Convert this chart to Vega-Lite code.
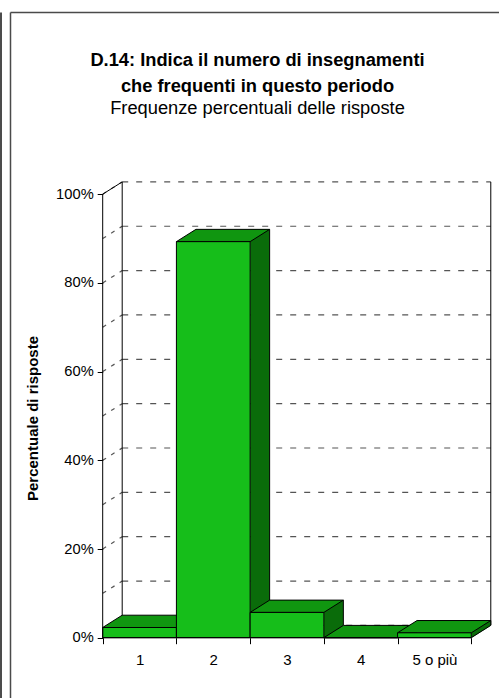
{
  "$schema": "https://vega.github.io/schema/vega-lite/v6.json",
  "width": 489,
  "height": 686,
  "autosize": {"type": "none"},
  "padding": {"left": 10, "top": 12, "right": 0, "bottom": 0},
  "background": "white",
  "config": {"view": {"stroke": null}, "font": "Liberation Sans"},
  "title": {
    "text": ["D.14: Indica il numero di insegnamenti", "che frequenti in questo periodo"],
    "subtitle": "Frequenze percentuali delle risposte",
    "anchor": "middle",
    "frame": "group",
    "orient": "top",
    "offset": -106,
    "dx": 3,
    "font": "Liberation Sans",
    "fontSize": 18.3,
    "fontWeight": "bold",
    "color": "black",
    "lineHeight": 26,
    "subtitleFont": "Liberation Sans",
    "subtitleFontSize": 18.3,
    "subtitleColor": "black",
    "subtitlePadding": 3
  },
  "datasets": {
    "risposte": [
      {"risposta": "1", "perc": 2.3},
      {"risposta": "2", "perc": 89.3},
      {"risposta": "3", "perc": 5.7},
      {"risposta": "4", "perc": 0},
      {"risposta": "5 o più", "perc": 1.1}
    ],
    "griglia": [
      {"v": 0}, {"v": 10}, {"v": 20}, {"v": 30}, {"v": 40}, {"v": 50},
      {"v": 60}, {"v": 70}, {"v": 80}, {"v": 90}, {"v": 100}
    ]
  },
  "resolve": {"axis": {"x": "independent", "y": "independent"}},
  "layer": [
    {
      "data": {"name": "griglia"},
      "mark": {"type": "rule", "stroke": "#555555", "strokeWidth": 1.2, "strokeDash": [6, 8], "xOffset": 19.5, "x2Offset": 19.5, "yOffset": -12.3},
      "encoding": {
        "x": {
          "datum": "1", "type": "nominal", "bandPosition": 0,
          "scale": {"type": "band", "domain": ["1", "2", "3", "4", "5 o più"], "paddingInner": 0, "paddingOuter": 0.8166, "align": 0.7699},
          "axis": {"orient": "top", "domain": true, "domainColor": "#4a4a4a", "domainWidth": 1.5, "ticks": false, "labels": false, "grid": false, "title": null}
        },
        "x2": {"datum": "5 o più", "bandPosition": 1},
        "y": {
          "field": "v", "type": "quantitative",
          "scale": {"domain": [-13.596, 141.082], "nice": false, "zero": false},
          "axis": {"orient": "left", "domain": true, "domainColor": "#4a4a4a", "domainWidth": 1.5, "ticks": false, "labels": false, "grid": false, "title": null}
        }
      }
    },
    {
      "data": {"name": "griglia"},
      "mark": {"type": "rule", "stroke": "#555555", "strokeWidth": 1.2, "strokeDash": [4, 6], "x2Offset": 19.5, "y2Offset": -12.3},
      "encoding": {
        "x": {"datum": "1", "type": "nominal", "bandPosition": 0, "axis": null},
        "x2": {"datum": "1", "bandPosition": 0},
        "y": {
          "field": "v", "type": "quantitative",
          "axis": {"orient": "left", "offset": 9.5, "domain": true, "domainColor": "#111111", "domainWidth": 1.5, "ticks": false, "labels": false, "grid": false, "title": null}
        },
        "y2": {"field": "v"}
      }
    },
    {
      "data": {"values": [{}]},
      "mark": {"type": "rule", "stroke": "black", "strokeWidth": 1, "xOffset": 19.5, "yOffset": -12.3, "y2Offset": -12.3},
      "encoding": {
        "x": {"datum": "1", "type": "nominal", "bandPosition": 0, "axis": null},
        "y": {"datum": 0, "type": "quantitative", "axis": null},
        "y2": {"datum": 100}
      }
    },
    {
      "data": {"values": [{}]},
      "mark": {"type": "rule", "stroke": "black", "strokeWidth": 1, "xOffset": 19.5, "yOffset": -12.3, "y2Offset": -12.3},
      "encoding": {
        "x": {"datum": "5 o più", "type": "nominal", "bandPosition": 1, "axis": null},
        "y": {"datum": 0, "type": "quantitative", "axis": null},
        "y2": {"datum": 100}
      }
    },
    {
      "data": {"values": [{}]},
      "mark": {"type": "rule", "stroke": "black", "strokeWidth": 1, "x2Offset": 19.5, "y2Offset": -12.3},
      "encoding": {
        "x": {"datum": "1", "type": "nominal", "bandPosition": 0, "axis": null},
        "x2": {"datum": "1", "bandPosition": 0},
        "y": {"datum": 100, "type": "quantitative", "axis": null},
        "y2": {"datum": 100}
      }
    },
    {
      "data": {"values": [{}]},
      "mark": {"type": "rule", "stroke": "black", "strokeWidth": 1, "x2Offset": 19.5, "y2Offset": -12.3},
      "encoding": {
        "x": {"datum": "1", "type": "nominal", "bandPosition": 0, "axis": null},
        "x2": {"datum": "1", "bandPosition": 0},
        "y": {"datum": 0, "type": "quantitative", "axis": null},
        "y2": {"datum": 0}
      }
    },
    {
      "data": {"name": "risposte"},
      "mark": {"type": "bar", "width": 19.5, "xOffset": 46.61, "yOffset": -12.3, "fill": "#0A6C0A", "strokeWidth": 0},
      "encoding": {
        "x": {"field": "risposta", "type": "nominal", "axis": null},
        "y": {"field": "perc", "type": "quantitative", "axis": null, "stack": null},
        "y2": {"datum": 0}
      }
    },
    {
      "data": {"name": "risposte"},
      "mark": {"type": "rule", "stroke": "black", "strokeWidth": 1, "xOffset": 56.36, "yOffset": -12.3, "y2Offset": -12.3},
      "encoding": {
        "x": {"field": "risposta", "type": "nominal", "axis": null},
        "y": {"field": "perc", "type": "quantitative", "axis": null},
        "y2": {"datum": 0}
      }
    },
    {
      "data": {"name": "risposte"},
      "mark": {"type": "point", "shape": "M-0.9322,0.123L0.5422,0.123L0.9322,-0.123L-0.5422,-0.123Z", "size": 10000, "filled": true, "fill": "#109610", "stroke": "black", "strokeWidth": 1, "opacity": 1, "xOffset": 9.75, "yOffset": -6.15},
      "encoding": {
        "x": {"field": "risposta", "type": "nominal", "axis": null},
        "y": {"field": "perc", "type": "quantitative", "axis": null}
      }
    },
    {
      "data": {"values": [{}]},
      "mark": {"type": "point", "shape": "M0.7372,0.006L1.1472,-0.252L1.1472,0.006Z", "size": 10000, "filled": true, "fill": "white", "strokeWidth": 0, "opacity": 1},
      "encoding": {
        "x": {"datum": "5 o più", "type": "nominal", "axis": null},
        "y": {"datum": 0, "type": "quantitative", "axis": null}
      }
    },
    {
      "data": {"values": [{}]},
      "mark": {"type": "rule", "stroke": "black", "strokeWidth": 1, "x2Offset": 19.5, "y2Offset": -12.3},
      "encoding": {
        "x": {"datum": "5 o più", "type": "nominal", "bandPosition": 1, "axis": null},
        "x2": {"datum": "5 o più", "bandPosition": 1},
        "y": {"datum": 0, "type": "quantitative", "axis": null},
        "y2": {"datum": 0}
      }
    },
    {
      "data": {"name": "risposte"},
      "mark": {"type": "bar", "fill": "#16BE1A", "stroke": "black", "strokeWidth": 1},
      "encoding": {
        "x": {
          "field": "risposta", "type": "nominal",
          "axis": {"orient": "bottom", "offset": -60.3, "domain": false, "tickBand": "extent", "tickSize": 6, "tickColor": "black", "tickWidth": 1, "labelFont": "Liberation Sans", "labelFontSize": 15, "labelColor": "black", "labelPadding": 9, "labelAngle": 0, "title": null, "grid": false}
        },
        "y": {
          "field": "perc", "type": "quantitative", "stack": null,
          "axis": {"orient": "left", "offset": -92.7, "values": [0, 20, 40, 60, 80, 100], "labelExpr": "datum.value + '%'", "domain": false, "tickSize": 5.5, "tickColor": "black", "tickWidth": 1, "labelFont": "Liberation Sans", "labelFontSize": 14.7, "labelColor": "black", "labelPadding": 4, "grid": false, "title": "Percentuale di risposte", "titleFont": "Liberation Sans", "titleFontSize": 15, "titleFontWeight": "bold", "titleColor": "black", "titlePadding": 15, "titleY": 406}
        },
        "y2": {"datum": 0}
      }
    },
    {
      "data": {"values": [{}]},
      "mark": {"type": "rule", "stroke": "black", "strokeWidth": 1},
      "encoding": {
        "x": {"datum": "1", "type": "nominal", "bandPosition": 0, "axis": null},
        "y": {"datum": 0, "type": "quantitative", "axis": null},
        "y2": {"datum": 100}
      }
    },
    {
      "data": {"values": [{}]},
      "mark": {"type": "rule", "stroke": "black", "strokeWidth": 1},
      "encoding": {
        "x": {"datum": "1", "type": "nominal", "bandPosition": 0, "axis": null},
        "x2": {"datum": "5 o più", "bandPosition": 1},
        "y": {"datum": 0, "type": "quantitative", "axis": null}
      }
    }
  ]
}
